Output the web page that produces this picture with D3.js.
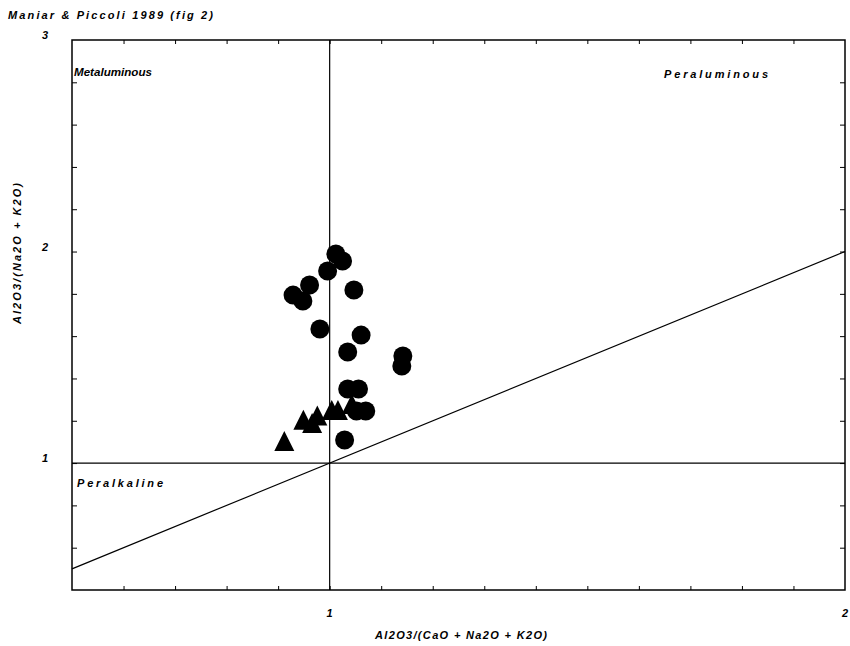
<!DOCTYPE html>
<html>
<head>
<meta charset="utf-8">
<script src="https://cdn.jsdelivr.net/npm/d3@7"></script>
<style>
  html, body { margin: 0; padding: 0; background: #fff; }
  svg { display: block; }
  text { font-family: "Liberation Sans", Arial, sans-serif; font-weight: bold; font-style: italic; fill: #000; }
</style>
</head>
<body>
<svg id="chart" width="850" height="646"></svg>
<script>
// Shand's index: A/CNK (x) vs A/NK (y)
const circleX = [1.012, 1.025, 0.996, 0.961, 0.929, 0.948, 1.047, 0.981, 1.061, 1.035, 1.142, 1.140, 1.035, 1.056, 1.052, 1.070, 1.029];
const circleY = [1.988, 1.955, 1.908, 1.842, 1.794, 1.766, 1.818, 1.634, 1.605, 1.525, 1.506, 1.459, 1.350, 1.350, 1.246, 1.246, 1.109];
const triangleX = [0.912, 0.949, 0.976, 0.966, 1.004, 1.016, 1.043];
const triangleY = [1.100, 1.200, 1.220, 1.185, 1.246, 1.246, 1.274];

const xTickLabels = [1, 2];
const yTickLabels = [1, 2, 3];
const xDomain = [0.5, 2];
const yDomain = [0.4, 3];

const title = "Maniar & Piccoli 1989 (fig 2)";
const xTitle = "Al2O3/(CaO + Na2O + K2O)";
const yTitle = "Al2O3/(Na2O + K2O)";
const regionLabels = ["Metaluminous", "Peraluminous", "Peralkaline"];

const svg = d3.select("#chart");
const m = { left: 72, right: 845, top: 40, bottom: 590 };

const x = d3.scaleLinear().domain(xDomain).range([m.left, m.right]);
const y = d3.scaleLinear().domain(yDomain).range([m.bottom, m.top]);

// minor ticks: every 0.1 on x, every 0.2 on y, pointing inward on all four sides
const xTicks = d3.range(6, 20).map(d => d / 10);
const yTicks = d3.range(3, 15).map(d => d / 5);

const g = svg.append("g");

g.append("g").attr("transform", `translate(0,${m.bottom})`)
  .call(d3.axisTop(x).tickValues(xTicks).tickSize(4).tickFormat(""))
  .call(a => a.select(".domain").remove());
g.append("g").attr("transform", `translate(0,${m.top})`)
  .call(d3.axisBottom(x).tickValues(xTicks).tickSize(4).tickFormat(""))
  .call(a => a.select(".domain").remove());
g.append("g").attr("transform", `translate(${m.left},0)`)
  .call(d3.axisRight(y).tickValues(yTicks).tickSize(5).tickFormat(""))
  .call(a => a.select(".domain").remove());
g.append("g").attr("transform", `translate(${m.right},0)`)
  .call(d3.axisLeft(y).tickValues(yTicks).tickSize(5).tickFormat(""))
  .call(a => a.select(".domain").remove());
g.selectAll(".tick line").attr("stroke", "#000").attr("stroke-width", 1);

// frame
g.append("rect")
  .attr("x", m.left).attr("y", m.top)
  .attr("width", m.right - m.left).attr("height", m.bottom - m.top)
  .attr("fill", "none").attr("stroke", "#000").attr("stroke-width", 1.5);

// dividing lines: A/CNK = 1, A/NK = 1 and A/NK = A/CNK
g.append("line").attr("x1", x(1)).attr("x2", x(1)).attr("y1", y(yDomain[0])).attr("y2", y(yDomain[1]))
  .attr("stroke", "#000").attr("stroke-width", 1.2);
g.append("line").attr("x1", x(xDomain[0])).attr("x2", x(xDomain[1])).attr("y1", y(1)).attr("y2", y(1))
  .attr("stroke", "#000").attr("stroke-width", 1.2);
g.append("line").attr("x1", x(xDomain[0])).attr("x2", x(xDomain[1])).attr("y1", y(xDomain[0])).attr("y2", y(xDomain[1]))
  .attr("stroke", "#000").attr("stroke-width", 1.2);

// tick labels
g.selectAll(".xl").data(xTickLabels).join("text")
  .attr("x", d => x(d)).attr("y", 617).attr("text-anchor", "middle")
  .attr("font-size", 11).text(d => d);
g.selectAll(".yl").data(yTickLabels).join("text")
  .attr("x", 45).attr("y", d => y(d) - 1).attr("text-anchor", "middle")
  .attr("font-size", 11).text(d => d);

// points
const circles = circleX.map((v, i) => ({ x: v, y: circleY[i] }));
const triangles = triangleX.map((v, i) => ({ x: v, y: triangleY[i] }));

g.selectAll(".c").data(circles).join("circle")
  .attr("cx", d => x(d.x)).attr("cy", d => y(d.y)).attr("r", 9.5).attr("fill", "#000");

const tri = d3.line()([[0, -11], [10, 9], [-10, 9]]) + "Z";
g.selectAll(".t").data(triangles).join("path")
  .attr("d", tri).attr("transform", d => `translate(${x(d.x)},${y(d.y)})`).attr("fill", "#000");

// texts
svg.append("text").attr("x", 8).attr("y", 19).attr("font-size", 11)
  .attr("textLength", 205).attr("lengthAdjust", "spacing").text(title);

svg.append("text").attr("x", 74).attr("y", 76).attr("font-size", 11)
  .attr("textLength", 78).attr("lengthAdjust", "spacingAndGlyphs").text(regionLabels[0]);
svg.append("text").attr("x", 664).attr("y", 78).attr("font-size", 11)
  .attr("textLength", 104).attr("lengthAdjust", "spacing").text(regionLabels[1]);
svg.append("text").attr("x", 77).attr("y", 487).attr("font-size", 11)
  .attr("textLength", 86).attr("lengthAdjust", "spacing").text(regionLabels[2]);

svg.append("text").attr("x", 375).attr("y", 639).attr("font-size", 11)
  .attr("textLength", 172).attr("lengthAdjust", "spacing").text(xTitle);

svg.append("text").attr("transform", "translate(21,324) rotate(-90)").attr("font-size", 11)
  .attr("textLength", 141).attr("lengthAdjust", "spacing").text(yTitle);
</script>
</body>
</html>
